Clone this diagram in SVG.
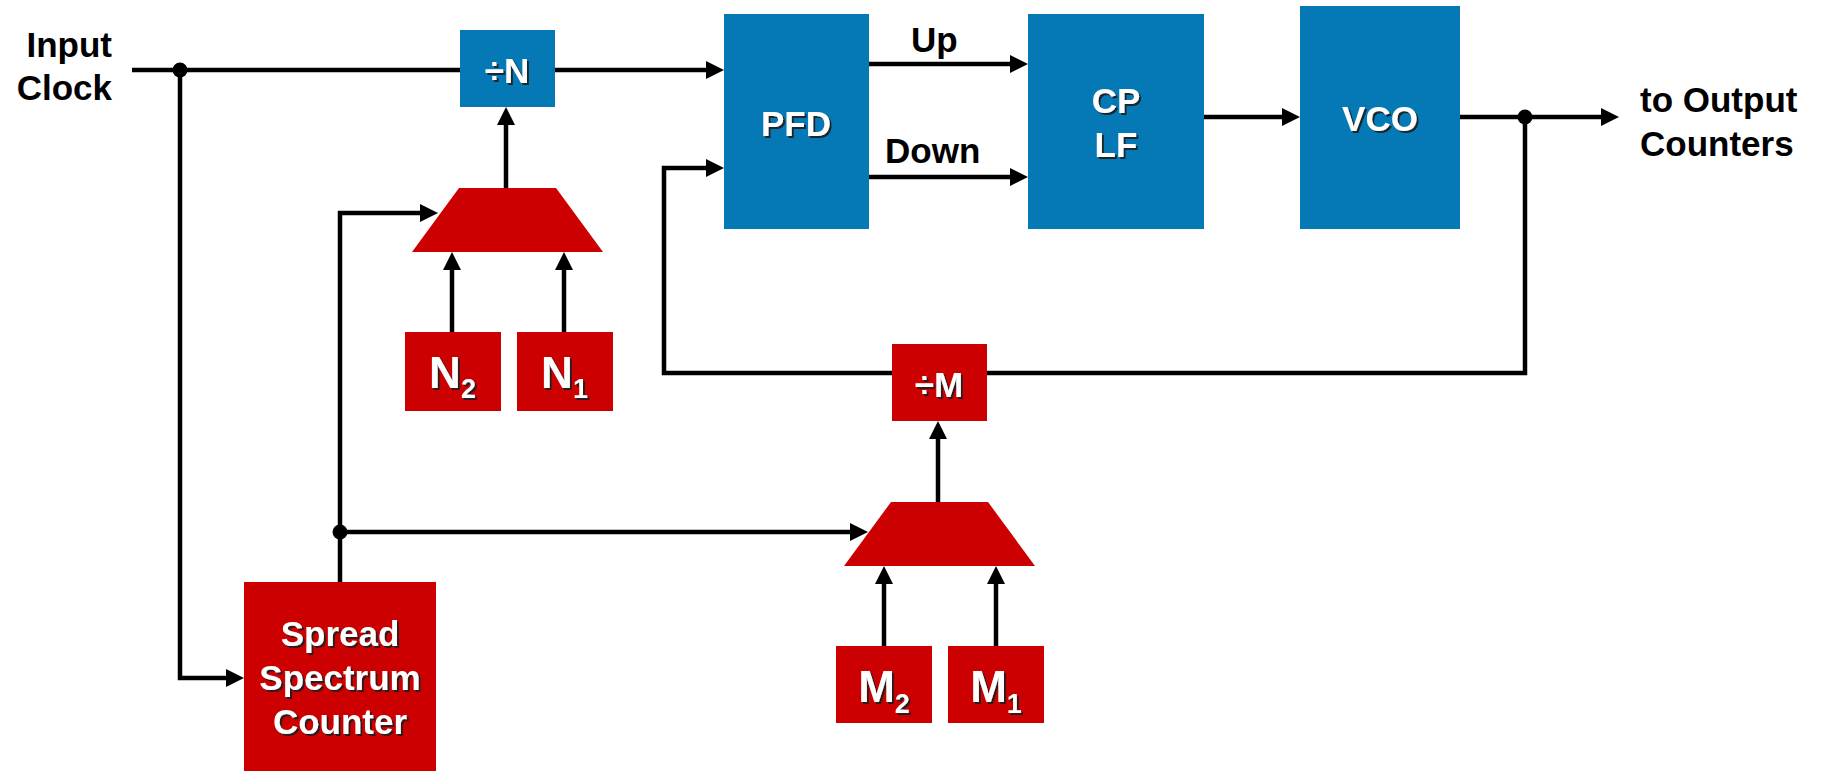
<svg xmlns="http://www.w3.org/2000/svg" width="1826" height="771" viewBox="0 0 1826 771">
  <style>
    .blue { fill: #0479B5; }
    .red { fill: #CC0000; }
    .wire { fill: none; stroke: #000; stroke-width: 4.5; stroke-linejoin: miter; }
    .arr { marker-end: url(#ah); }
    .lbl { font-family: "Liberation Sans", Arial, sans-serif; font-weight: bold; font-size: 35px; fill: #000; }
    .in { font-family: "Liberation Sans", Arial, sans-serif; font-weight: bold; font-size: 35px; fill: #fff; filter: url(#sh); text-anchor: middle; }
    .big { font-size: 44px; }
    .sub { font-size: 27px; }
  </style>
  <defs>
    <marker id="ah" markerUnits="userSpaceOnUse" markerWidth="18" markerHeight="18" viewBox="0 0 18 18" refX="12" refY="9" orient="auto">
      <path d="M0,0 L18,9 L0,18 z" fill="#000"/>
    </marker>
    <filter id="sh" x="-10%" y="-10%" width="130%" height="140%">
      <feDropShadow dx="2" dy="2" stdDeviation="0.6" flood-color="#1a1a1a" flood-opacity="0.9"/>
    </filter>
  </defs>
  <rect width="1826" height="771" fill="#fff"/>

  <g id="connectors">
    <path class="wire" d="M132,70 H460"/>
    <path class="wire arr" d="M555,70 H718"/>
    <path class="wire arr" d="M180,70 V678 H238"/>
    <path class="wire arr" d="M340,582 V213 H432"/>
    <path class="wire arr" d="M340,532 H862"/>
    <path class="wire arr" d="M506,188 V113"/>
    <path class="wire arr" d="M452,332 V258"/>
    <path class="wire arr" d="M564,332 V258"/>
    <path class="wire arr" d="M938,502 V427"/>
    <path class="wire arr" d="M884,646 V572"/>
    <path class="wire arr" d="M996,646 V572"/>
    <path class="wire arr" d="M869,64 H1022"/>
    <path class="wire arr" d="M869,177 H1022"/>
    <path class="wire arr" d="M1204,117 H1294"/>
    <path class="wire arr" d="M1460,117 H1613"/>
    <path class="wire" d="M1525,117 V373 H987"/>
    <path class="wire arr" d="M892,373 H664 V168 H718"/>
    <circle cx="180" cy="70" r="7.5" fill="#000"/>
    <circle cx="340" cy="532" r="7.5" fill="#000"/>
    <circle cx="1525" cy="117" r="7.5" fill="#000"/>
  </g>

  <g id="input-label">
    <text class="lbl" x="112" y="57" text-anchor="end">Input</text>
    <text class="lbl" x="112" y="100" text-anchor="end">Clock</text>
  </g>
  <g id="output-label">
    <text class="lbl" x="1640" y="112">to Output</text>
    <text class="lbl" x="1640" y="156">Counters</text>
  </g>
  <g id="up-label"><text class="lbl" x="911" y="52">Up</text></g>
  <g id="down-label"><text class="lbl" x="885" y="163">Down</text></g>

  <g id="divN">
    <rect class="blue" x="460" y="30" width="95" height="77"/>
    <text class="in" x="507" y="83">÷N</text>
  </g>
  <g id="pfd">
    <rect class="blue" x="724" y="14" width="145" height="215"/>
    <text class="in" x="796" y="136">PFD</text>
  </g>
  <g id="cplf">
    <rect class="blue" x="1028" y="14" width="176" height="215"/>
    <text class="in" x="1116" y="113">CP</text>
    <text class="in" x="1116" y="157">LF</text>
  </g>
  <g id="vco">
    <rect class="blue" x="1300" y="6" width="160" height="223"/>
    <text class="in" x="1380" y="131">VCO</text>
  </g>
  <g id="muxN">
    <polygon class="red" points="459,188 556,188 603,252 412,252"/>
  </g>
  <g id="N2">
    <rect class="red" x="405" y="332" width="96" height="79"/>
    <text class="in" x="452.5" y="388"><tspan class="big">N</tspan><tspan class="sub" dy="10">2</tspan></text>
  </g>
  <g id="N1">
    <rect class="red" x="517" y="332" width="96" height="79"/>
    <text class="in" x="564.5" y="388"><tspan class="big">N</tspan><tspan class="sub" dy="10">1</tspan></text>
  </g>
  <g id="divM">
    <rect class="red" x="892" y="344" width="95" height="77"/>
    <text class="in" x="939" y="397">÷M</text>
  </g>
  <g id="muxM">
    <polygon class="red" points="891,502 988,502 1035,566 844,566"/>
  </g>
  <g id="M2">
    <rect class="red" x="836" y="646" width="96" height="77"/>
    <text class="in" x="884" y="702"><tspan class="big">M</tspan><tspan class="sub" dy="11">2</tspan></text>
  </g>
  <g id="M1">
    <rect class="red" x="948" y="646" width="96" height="77"/>
    <text class="in" x="996" y="702"><tspan class="big">M</tspan><tspan class="sub" dy="11">1</tspan></text>
  </g>
  <g id="spread">
    <rect class="red" x="244" y="582" width="192" height="189"/>
    <text class="in" x="340" y="646">Spread</text>
    <text class="in" x="340" y="690">Spectrum</text>
    <text class="in" x="340" y="734">Counter</text>
  </g>
</svg>
